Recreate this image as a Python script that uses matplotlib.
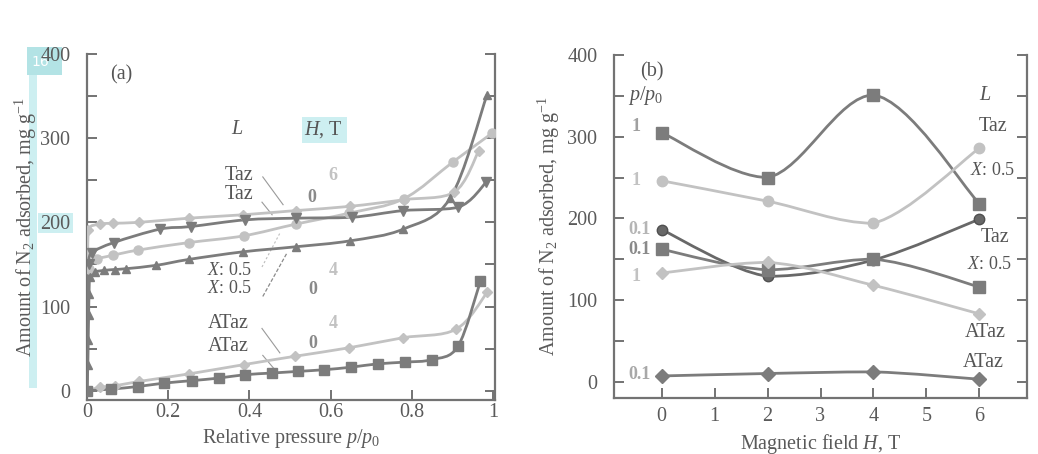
import numpy as np
import matplotlib
matplotlib.use("Agg")
import matplotlib.pyplot as plt
from matplotlib.path import Path
from matplotlib.patches import PathPatch, Rectangle

plt.rcParams['font.family'] = ['Liberation Serif', 'DejaVu Serif']
plt.rcParams['mathtext.fontset'] = 'custom'
plt.rcParams['mathtext.rm'] = 'Liberation Serif'
plt.rcParams['mathtext.it'] = 'Liberation Serif:italic'

# ---------------- Panel (a) data: N2 isotherms ----------------
taz6_p = [0.0, 0.003, 0.031, 0.064, 0.128, 0.251, 0.384, 0.514, 0.647, 0.782, 0.905, 0.965]
taz6_v = [0, 191, 198, 199, 200, 205, 209, 214, 219, 227, 236, 285]

taz0_p = [0.0, 0.004, 0.013, 0.066, 0.18, 0.255, 0.39, 0.516, 0.652, 0.779, 0.915, 0.984]
taz0_v = [0, 150, 164, 176, 192, 195, 203, 205, 206, 214, 218, 248]

tazx4_p = [0.0, 0.004, 0.025, 0.065, 0.125, 0.251, 0.386, 0.515, 0.646, 0.78, 0.902, 0.998]
tazx4_v = [0, 145, 156, 161, 167, 176, 184, 198, 211, 228, 272, 306]

tazx0_p = [0.0, 0.002, 0.003, 0.004, 0.005, 0.007, 0.019, 0.043, 0.068, 0.097, 0.171, 0.251,
           0.384, 0.514, 0.647, 0.779, 0.895, 0.985]
tazx0_v = [0, 30, 60, 90, 115, 135, 141, 143, 144, 145, 149, 156, 165, 171, 178, 192, 229, 351]

ataz4_p = [0.0, 0.031, 0.07, 0.128, 0.251, 0.386, 0.513, 0.645, 0.779, 0.909, 0.986]
ataz4_v = [0, 4, 6, 11, 20, 31, 41, 51, 63, 73, 117]

ataz0_p = [0.0, 0.06, 0.125, 0.189, 0.258, 0.324, 0.388, 0.455, 0.52, 0.585, 0.651, 0.717,
           0.784, 0.85, 0.914, 0.969]
ataz0_v = [0, 2, 5, 9, 12, 15, 19, 21, 23, 25, 28, 32, 34, 37, 53, 130]

# ---------------- Panel (b) data: adsorbed vs field ----------------
field_H = [0, 2, 4, 6]
b_taz_p1 = [305, 250, 351, 218]      # Taz, p/p0 = 1 (squares)
b_tazx_p1 = [246, 221, 194, 286]     # Taz X:0.5, p/p0 = 1 (light circles)
b_tazx_p01 = [186, 129, 149, 199]    # Taz X:0.5, p/p0 = 0.1 (dark circles)
b_taz_p01 = [162, 137, 150, 116]     # Taz, p/p0 = 0.1 (squares)
b_ataz_p1 = [133, 146, 118, 83]      # ATaz, p/p0 = 1 (light diamonds)
b_ataz_p01 = [7, 10, 12, 3]          # ATaz, p/p0 = 0.1 (dark diamonds)

DARK = '#7c7c7c'
DARKER = '#686868'
LIGHT = '#c2c2c2'
TXT = '#5a5a5a'


def smooth_path(xs, ys):
    pts = np.column_stack([xs, ys]).astype(float)
    n = len(pts)
    verts = [pts[0]]
    codes = [Path.MOVETO]
    for i in range(n - 1):
        p0 = pts[max(i - 1, 0)]
        p1 = pts[i]
        p2 = pts[i + 1]
        p3 = pts[min(i + 2, n - 1)]
        c1 = p1 + (p2 - p0) / 6.0
        c2 = p2 - (p3 - p1) / 6.0
        lo = np.minimum(p1, p2)
        hi = np.maximum(p1, p2)
        c1 = np.clip(c1, lo, hi)
        c2 = np.clip(c2, lo, hi)
        verts += [c1, c2, p2]
        codes += [Path.CURVE4] * 3
    return Path(np.array(verts), codes)


def draw_series(ax, xs, ys, color, marker, ms, lw=2.0, mec=None, skip_first=False):
    ax.add_patch(PathPatch(smooth_path(xs, ys), fill=False, edgecolor=color,
                           lw=lw, capstyle='round', joinstyle='round', zorder=3))
    mx = xs[1:] if skip_first else xs
    my = ys[1:] if skip_first else ys
    ax.plot(mx, my, ls='none', marker=marker, ms=ms, color=color,
            mec=mec if mec else color, zorder=4)


fig = plt.figure(figsize=(10.38, 4.54), dpi=100)
W, Hh = 1038.0, 454.0

# ---------- cyan highlight overlays seen on the reference (drawn behind) ----------
def frect(x0, y0, x1, y1, color):
    fig.patches.append(Rectangle((x0 / W, 1 - y1 / Hh), (x1 - x0) / W, (y1 - y0) / Hh,
                                 transform=fig.transFigure, facecolor=color,
                                 edgecolor='none', zorder=-5))
frect(29, 74, 37, 388, '#cdeff1')
frect(27, 47, 62, 75, '#b3e3e5')
frect(38, 213, 73, 233, '#cdeff1')
frect(302, 117, 347, 143, '#cdeff1')

ax1 = fig.add_axes([87 / W, 1 - 400 / Hh, (495 - 87) / W, (400 - 54) / Hh])
ax2 = fig.add_axes([614 / W, 1 - 398 / Hh, (1027 - 614) / W, (398 - 55) / Hh])

for ax in (ax1, ax2):
    ax.spines['top'].set_visible(False)
    for s in ('left', 'right', 'bottom'):
        ax.spines[s].set_color('#737373')
        ax.spines[s].set_linewidth(1.6)
    ax.tick_params(axis='both', which='both', direction='in', colors='#737373',
                   labelcolor=TXT, labelsize=14.5, width=1.4)
    ax.tick_params(axis='y', which='both', left=True, right=True, length=7, pad=12)
    ax.set_yticks([0, 100, 200, 300, 400])
    ax.set_yticks([50, 150, 250, 350], minor=True)
    ax.set_facecolor('none')

ax1.tick_params(axis='x', which='both', length=7, pad=2)
ax2.tick_params(axis='x', which='both', length=7, pad=6.5)

# ---------- panel (a) ----------
ax1.set_xlim(0, 1.005)
ax1.set_ylim(-11, 400)
ax1.set_xticks([0, 0.2, 0.4, 0.6, 0.8, 1.0])
ax1.set_xticklabels(['0', '0.2', '0.4', '0.6', '0.8', '1'])
ax1.set_xlabel('Relative pressure $p/p_0$', fontsize=14.5, color=TXT, labelpad=3.5)
ax1.set_ylabel('Amount of N$_2$ adsorbed, mg g$^{-1}$', fontsize=14.5, color=TXT, labelpad=1)

draw_series(ax1, taz6_p, taz6_v, LIGHT, 'D', 5.5, skip_first=True)
draw_series(ax1, tazx4_p, tazx4_v, LIGHT, 'o', 6.5, skip_first=True)
draw_series(ax1, taz0_p, taz0_v, DARK, 'v', 6.5, skip_first=True)
draw_series(ax1, tazx0_p, tazx0_v, DARK, '^', 6, skip_first=False)
draw_series(ax1, ataz4_p, ataz4_v, LIGHT, 'D', 5.5)
draw_series(ax1, ataz0_p, ataz0_v, DARK, 's', 7.5)

tk = dict(fontsize=14.5, color='#555555', ha='center', va='center')
ax1.text(0.085, 375, '(a)', **tk)
ax1.text(0.369, 310, '$L$', **tk)
ax1.text(0.581, 310, '$H$, T', **tk)
ax1.text(0.374, 256, 'Taz', **tk)
ax1.text(0.374, 233, 'Taz', **tk)
ax1.text(0.606, 256, '6', fontsize=13, color=LIGHT, ha='center', va='center', fontweight='bold')
ax1.text(0.554, 230, '0', fontsize=13, color='#8a8a8a', ha='center', va='center', fontweight='bold')
ax1.text(0.352, 143, '$X$: 0.5', fontsize=13, color='#555555', ha='center', va='center')
ax1.text(0.352, 121, '$X$: 0.5', fontsize=13, color='#555555', ha='center', va='center')
ax1.text(0.606, 143, '4', fontsize=13, color=LIGHT, ha='center', va='center', fontweight='bold')
ax1.text(0.557, 120, '0', fontsize=13, color='#8a8a8a', ha='center', va='center', fontweight='bold')
ax1.text(0.347, 80, 'ATaz', **tk)
ax1.text(0.347, 53, 'ATaz', **tk)
ax1.text(0.606, 80, '4', fontsize=13, color=LIGHT, ha='center', va='center', fontweight='bold')
ax1.text(0.557, 56, '0', fontsize=13, color='#8a8a8a', ha='center', va='center', fontweight='bold')

lk = dict(color='#9a9a9a', lw=0.8, zorder=2)
ax1.plot([0.433, 0.483], [254, 221], **lk)
ax1.plot([0.431, 0.456], [224, 209], **lk)
ax1.plot([0.431, 0.476], [147, 188], color='#bdbdbd', lw=0.8, ls=(0, (2, 2)), zorder=2)
ax1.plot([0.433, 0.493], [112, 164], color='#8a8a8a', lw=0.9, ls=(0, (3, 1.5)), zorder=2)
ax1.plot([0.431, 0.475], [74, 45], **lk)
ax1.plot([0.433, 0.468], [42, 22], **lk)

# ---------- panel (b) ----------
ax2.set_xlim(-0.9, 6.9)
ax2.set_ylim(-20, 400)
ax2.set_xticks(range(0, 7))
ax2.set_xlabel('Magnetic field $H$, T', fontsize=14.5, color=TXT, labelpad=4)
ax2.set_ylabel('Amount of N$_2$ adsorbed, mg g$^{-1}$', fontsize=14.5, color=TXT, labelpad=4)

draw_series(ax2, field_H, b_taz_p1, DARK, 's', 8)
draw_series(ax2, field_H, b_tazx_p1, LIGHT, 'o', 7.5)
draw_series(ax2, field_H, b_tazx_p01, DARKER, 'o', 7.5, mec='#505050')
draw_series(ax2, field_H, b_taz_p01, DARK, 's', 8)
draw_series(ax2, field_H, b_ataz_p1, LIGHT, 'D', 6.5)
draw_series(ax2, field_H, b_ataz_p01, DARK, 'D', 7)

ax2.text(-0.19, 379, '(b)', **tk)
ax2.text(-0.3, 350, '$p/p_0$', **tk)
lab = dict(fontsize=13, ha='center', va='center', fontweight='bold')
ax2.text(-0.48, 312, '1', color='#a0a0a0', **lab)
ax2.text(-0.48, 246, '1', color=LIGHT, **lab)
ax2.text(-0.42, 186, '0.1', color='#b5b5b5', **lab)
ax2.text(-0.42, 162, '0.1', color='#8a8a8a', **lab)
ax2.text(-0.48, 129, '1', color=LIGHT, **lab)
ax2.text(-0.42, 9, '0.1', color='#a8a8a8', **lab)

ax2.text(6.11, 350, '$L$', **tk)
ax2.text(6.25, 312, 'Taz', **tk)
ax2.text(6.24, 258, '$X$: 0.5', fontsize=13, color='#555555', ha='center', va='center')
ax2.text(6.3, 176, 'Taz', **tk)
ax2.text(6.2, 143, '$X$: 0.5', fontsize=13, color='#555555', ha='center', va='center')
ax2.text(6.11, 60, 'ATaz', **tk)
ax2.text(6.07, 24, 'ATaz', **tk)

fig.text(40 / W, 1 - 62 / Hh, '16', fontsize=10, color='white', ha='center', va='center',
         family='DejaVu Sans', zorder=-4)

fig.savefig('out.png', dpi=100, facecolor='white')
